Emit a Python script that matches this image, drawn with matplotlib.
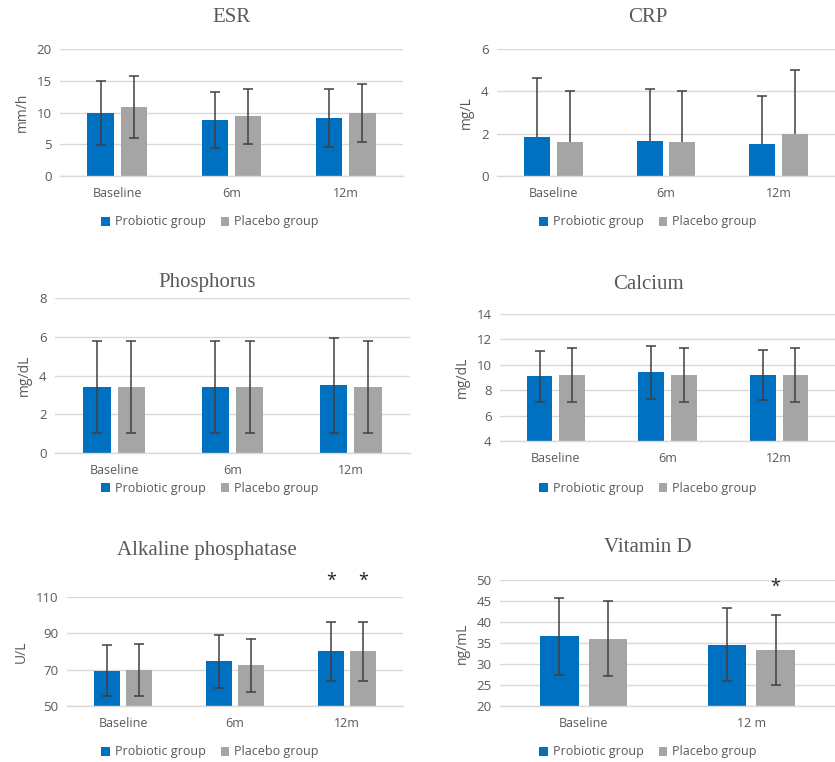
import matplotlib
matplotlib.use("Agg")
import matplotlib.pyplot as plt
import numpy as np

BLUE = "#0070C0"
GRAY = "#A5A5A5"
TXT = "#595959"
GRID = "#D9D9D9"
ERR = "#404040"

# ---- data ----
cats3 = ["Baseline", "6m", "12m"]
cats2 = ["Baseline", "12 m"]

esr_pro = [9.9, 8.8, 9.1]
esr_pro_sd = [5.0, 4.4, 4.6]
esr_pla = [10.9, 9.4, 9.9]
esr_pla_sd = [4.9, 4.3, 4.6]

crp_pro = [1.85, 1.65, 1.5]
crp_pro_sd = [2.77, 2.48, 2.27]
crp_pla = [1.6, 1.6, 2.0]
crp_pla_sd = [2.4, 2.4, 3.0]

pho_pro = [3.4, 3.4, 3.5]
pho_pro_sd = [2.37, 2.37, 2.45]
pho_pla = [3.4, 3.4, 3.4]
pho_pla_sd = [2.37, 2.37, 2.37]

cal_pro = [9.1, 9.4, 9.2]
cal_pro_sd = [2.0, 2.1, 2.0]
cal_pla = [9.2, 9.2, 9.2]
cal_pla_sd = [2.1, 2.1, 2.1]

alp_pro = [69.5, 74.5, 80.0]
alp_pro_sd = [14.0, 14.8, 16.0]
alp_pla = [70.0, 72.3, 80.0]
alp_pla_sd = [14.3, 14.4, 16.0]

vitd_pro = [36.6, 34.6]
vitd_pro_sd = [9.2, 8.7]
vitd_pla = [36.0, 33.3]
vitd_pla_sd = [8.9, 8.3]

series_names = ["Probiotic group", "Placebo group"]

SANS = ["Open Sans", "DejaVu Sans"]
SERIF = ["Liberation Serif", "DejaVu Serif"]

fig = plt.figure(figsize=(8.35, 7.62), dpi=100)
W, H = 835, 762


def px_axes(x0, x1, y0, y1):
    return fig.add_axes([x0 / W, 1 - y1 / H, (x1 - x0) / W, (y1 - y0) / H])


def errs(ax, xs, vals, sds, upper_only):
    xs = np.asarray(xs, dtype=float)
    vals = np.asarray(vals, dtype=float)
    sds = np.asarray(sds, dtype=float)
    if upper_only:
        ax.vlines(xs, vals, vals + sds, color=ERR, linewidth=1.1, zorder=3)
        ax.plot(xs, vals + sds, linestyle="none", marker="_", markersize=7,
                markeredgewidth=1.1, color=ERR, zorder=3)
    else:
        ax.errorbar(xs, vals, yerr=sds, fmt="none", ecolor=ERR,
                    elinewidth=1.1, capsize=3.5, capthick=1.1, zorder=3)


def panel(rect, title, title_y, cats, pro, pro_sd, pla, pla_sd, ylim, yticks,
          ylabel, legend_xy, upper_only=False, stars=None, title_x=None):
    ax = px_axes(*rect)
    x = np.arange(len(cats))
    w = 0.23
    off = 0.145
    b1 = ax.bar(x - off, pro, w, color=BLUE, label=series_names[0], zorder=2)
    b2 = ax.bar(x + off, pla, w, color=GRAY, label=series_names[1], zorder=2)
    errs(ax, x - off, pro, pro_sd, upper_only)
    errs(ax, x + off, pla, pla_sd, upper_only)
    ax.set_xlim(-0.5, len(cats) - 0.5)
    ax.set_ylim(*ylim)
    ax.set_yticks(yticks)
    ax.set_xticks(x)
    ax.set_xticklabels(cats, fontsize=9, color=TXT, family=SANS)
    for t in ax.get_yticklabels():
        t.set_fontsize(9.5)
        t.set_color(TXT)
        t.set_family(SANS)
    ax.tick_params(length=0, pad=6)
    ax.tick_params(axis="x", pad=8)
    ax.grid(axis="y", color=GRID, linewidth=1, zorder=0)
    ax.set_axisbelow(True)
    for s in ["top", "right", "left"]:
        ax.spines[s].set_visible(False)
    ax.spines["bottom"].set_color(GRID)
    ax.spines["bottom"].set_linewidth(1)
    ax.set_ylabel(ylabel, fontsize=10, color=TXT, family=SANS, labelpad=5)
    tx = title_x if title_x is not None else (rect[0] + rect[1]) / 2
    fig.text(tx / W, 1 - title_y / H, title, ha="center", va="center",
             fontsize=15, color=TXT, family=SERIF)
    fig.legend(handles=[b1, b2], labels=series_names, loc="center",
               bbox_to_anchor=(legend_xy[0] / W, 1 - legend_xy[1] / H),
               ncol=2, frameon=False,
               prop={"family": SANS, "size": 9},
               handlelength=0.7, handleheight=0.7, handletextpad=0.4,
               columnspacing=1.2, labelcolor=TXT)
    if stars:
        for (xi, yi) in stars:
            ax.text(xi, yi, "*", ha="center", va="center", fontsize=13,
                    color="#222222", clip_on=False, family=SANS)
    return ax


panel((60, 403, 49, 176), "ESR", 17, cats3, esr_pro, esr_pro_sd, esr_pla,
      esr_pla_sd, (0, 20), [0, 5, 10, 15, 20], "mm/h", (210, 222))
panel((497, 835, 49, 176), "CRP", 17, cats3, crp_pro, crp_pro_sd, crp_pla,
      crp_pla_sd, (0, 6), [0, 2, 4, 6], "mg/L", (648, 222), upper_only=True,
      title_x=648)
panel((55, 410, 298, 453), "Phosphorus", 283, cats3, pho_pro, pho_pro_sd,
      pho_pla, pho_pla_sd, (0, 8), [0, 2, 4, 6, 8], "mg/dL", (210, 488),
      title_x=207)
panel((500, 835, 314, 441), "Calcium", 284, cats3, cal_pro, cal_pro_sd,
      cal_pla, cal_pla_sd, (4, 14), [4, 6, 8, 10, 12, 14], "mg/dL", (648, 488),
      title_x=648)
panel((67, 403, 597, 706), "Alkaline phosphatase", 550, cats3, alp_pro,
      alp_pro_sd, alp_pla, alp_pla_sd, (50, 110), [50, 70, 90, 110], "U/L",
      (210, 752), stars=[(2 - 0.145, 119), (2 + 0.145, 119)], title_x=207)
panel((500, 835, 580, 706), "Vitamin D", 548, cats2, vitd_pro, vitd_pro_sd,
      vitd_pla, vitd_pla_sd, (20, 50), [20, 25, 30, 35, 40, 45, 50], "ng/mL",
      (648, 752), stars=[(1 + 0.145, 48.4)], title_x=648)

fig.savefig("out.png", dpi=100, facecolor="white")
